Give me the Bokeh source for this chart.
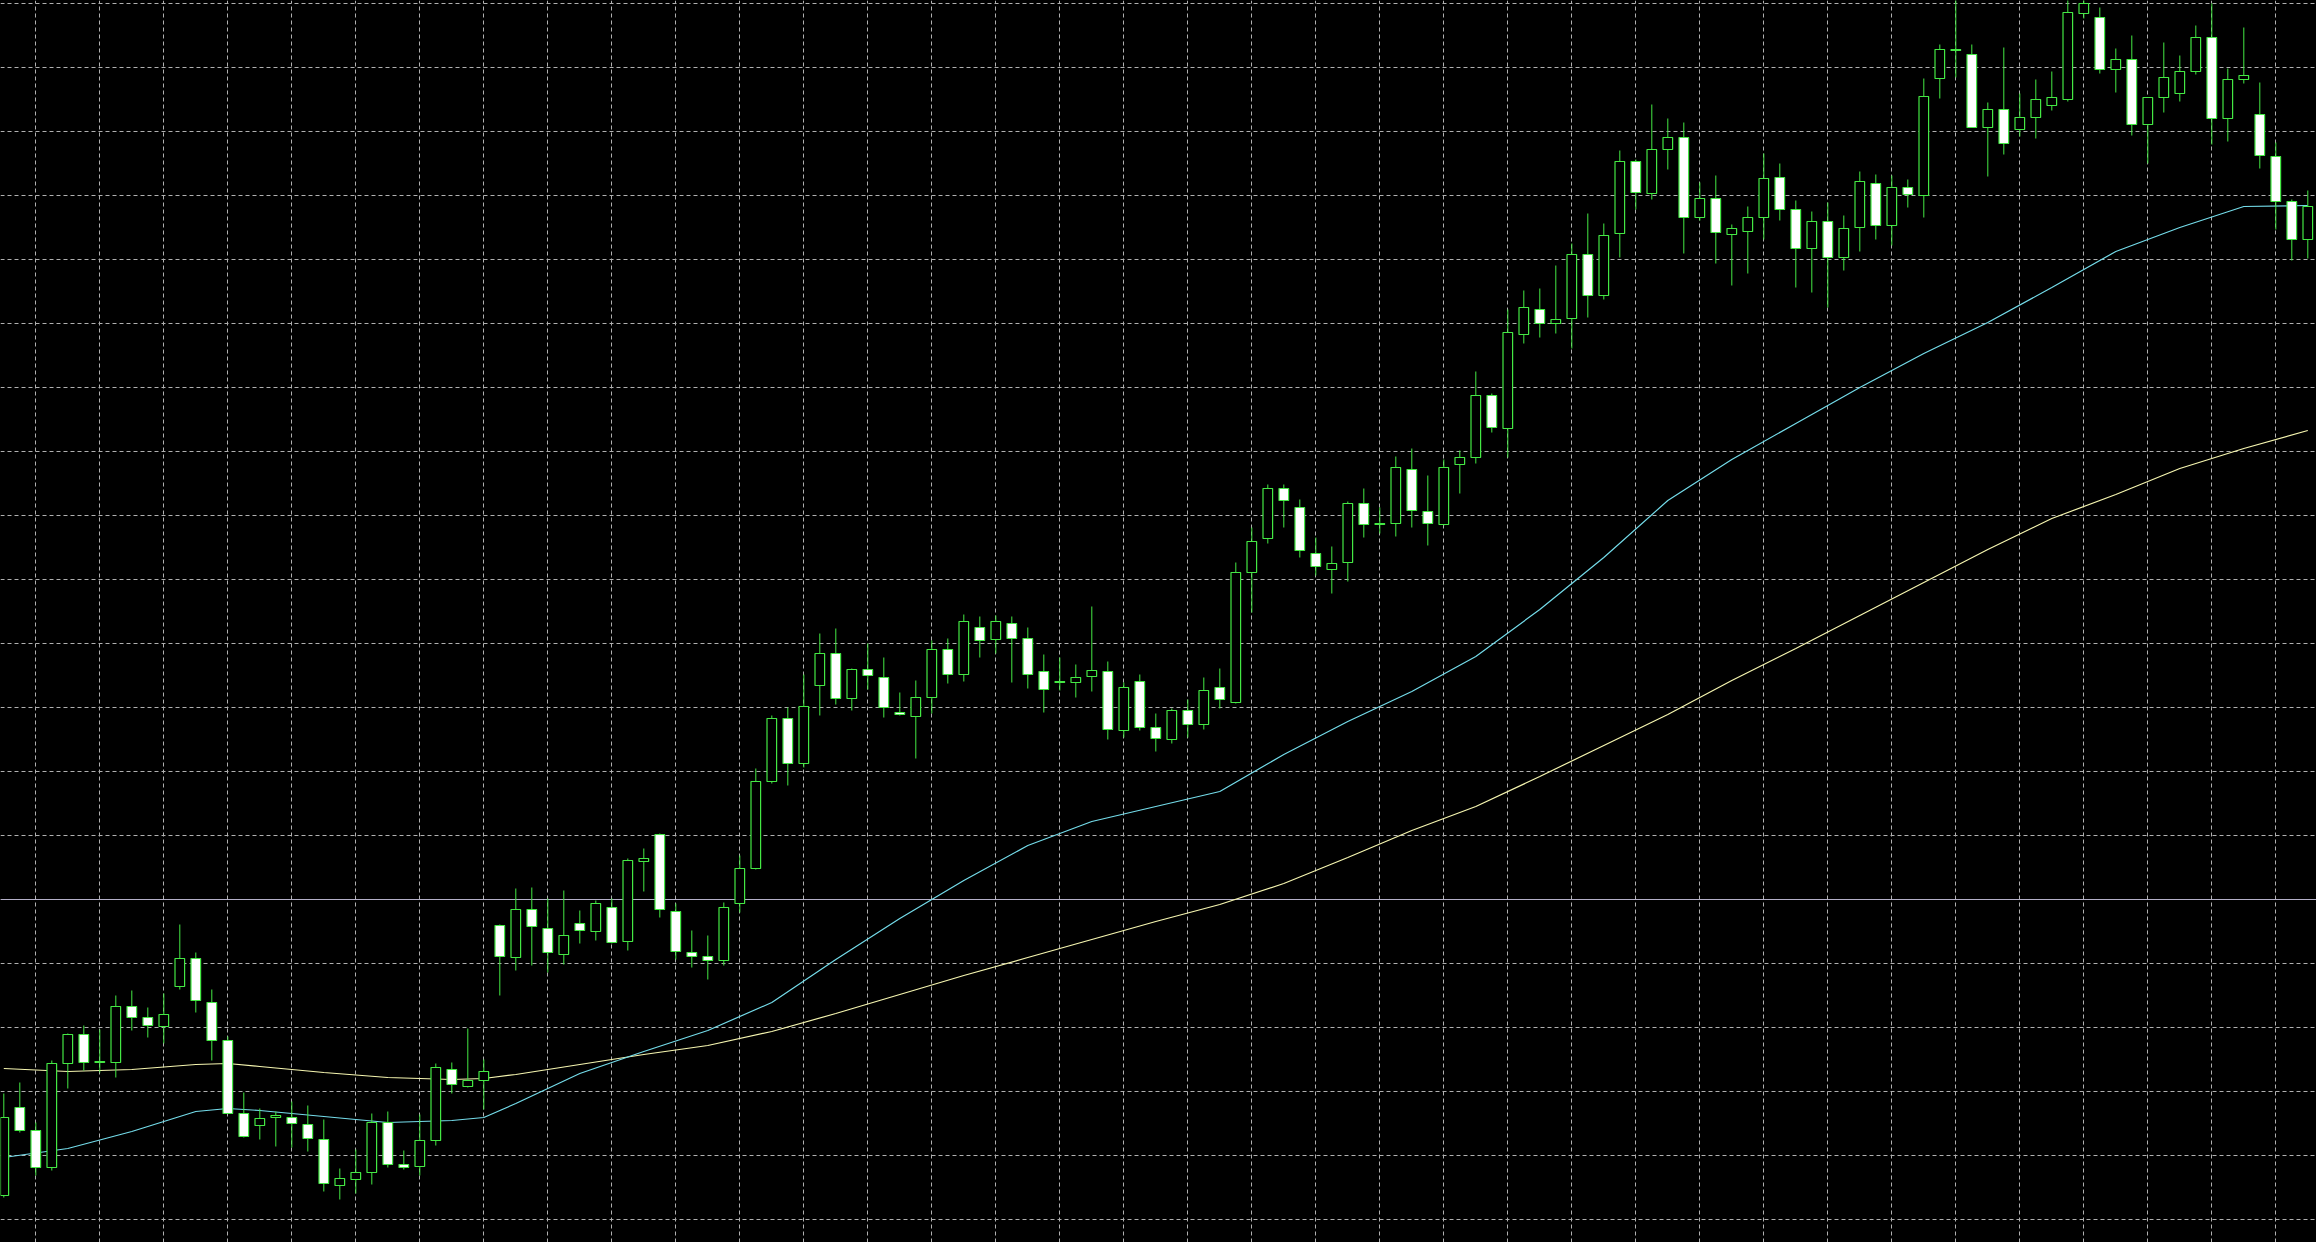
from bokeh.plotting import figure
from bokeh.models import Range1d, Grid, FixedTicker, Span, ColumnDataSource
from bokeh.embed import file_html
from bokeh.resources import INLINE

# ---- data (price in points; chart shows no price scale) ----
open_ = [47, 135, 112, 75, 179, 208, 180, 180, 236, 225,
         216, 256, 284, 240, 202, 129, 117, 125, 125, 118,
         103, 57, 63, 70, 120, 78, 76, 102, 173, 156,
         162, 317, 285, 333, 314, 288, 319, 311, 335, 301,
         381, 408, 331, 290, 286, 282, 339, 374, 461, 524,
         479, 557, 589, 544, 573, 565, 530, 526, 545, 593,
         568, 615, 603, 619, 604, 571, 561, 560, 566, 571,
         512, 561, 515, 503, 532, 518, 555, 540, 670, 704,
         754, 735, 689, 673, 680, 739, 719, 719, 773, 731,
         718, 778, 785, 847, 814, 908, 933, 919, 924, 988,
         947, 1009, 1081, 1049, 1093, 1105, 1025, 1044, 1008, 1011,
         1025, 1065, 1033, 994, 1021, 985, 1015, 1059, 1017, 1055,
         1047, 1164, 1193, 1188, 1115, 1133, 1113, 1125, 1137, 1143,
         1229, 1225, 1173, 1183, 1118, 1145, 1149, 1171, 1205, 1124,
         1163, 1128, 1086, 1041, 1003]
high = [149, 160, 120, 182, 209, 217, 213, 247, 252, 235,
        249, 318, 290, 253, 206, 150, 134, 131, 141, 137,
        123, 74, 93, 129, 131, 92, 128, 179, 180, 214,
        183, 318, 354, 355, 344, 352, 332, 342, 344, 384,
        394, 409, 339, 312, 307, 340, 387, 474, 527, 535,
        568, 609, 614, 574, 599, 585, 550, 562, 602, 604,
        628, 626, 627, 626, 615, 588, 585, 578, 636, 581,
        560, 568, 529, 534, 543, 565, 574, 680, 715, 758,
        758, 743, 705, 696, 741, 754, 735, 786, 794, 767,
        783, 792, 871, 849, 933, 952, 954, 977, 999, 1029,
        1019, 1092, 1083, 1138, 1124, 1120, 1060, 1067, 1018, 1036,
        1089, 1079, 1042, 1031, 1040, 1027, 1071, 1068, 1067, 1063,
        1164, 1198, 1245, 1198, 1140, 1195, 1149, 1163, 1171, 1243,
        1245, 1235, 1194, 1207, 1145, 1200, 1187, 1217, 1239, 1174,
        1215, 1160, 1100, 1043, 1052]
low = [45, 110, 67, 72, 154, 172, 170, 165, 212, 205,
       199, 253, 230, 182, 129, 105, 103, 96, 95, 91,
       51, 43, 49, 58, 75, 73, 67, 97, 149, 155,
       133, 247, 272, 277, 270, 278, 299, 302, 299, 292,
       351, 325, 283, 275, 263, 277, 330, 373, 459, 457,
       475, 527, 538, 532, 553, 525, 527, 484, 529, 559,
       561, 585, 589, 560, 554, 530, 552, 545, 551, 503,
       505, 512, 491, 499, 505, 513, 534, 539, 630, 699,
       715, 685, 667, 649, 661, 705, 709, 706, 715, 697,
       717, 749, 779, 810, 785, 899, 905, 909, 894, 925,
       943, 985, 1033, 1043, 1073, 989, 1022, 979, 957, 969,
       1003, 1022, 955, 950, 935, 972, 991, 1003, 997, 1035,
       1025, 1144, 1165, 1115, 1066, 1088, 1106, 1104, 1132, 1141,
       1224, 1169, 1150, 1107, 1079, 1130, 1141, 1168, 1098, 1101,
       1159, 1074, 1013, 982, 984]
close = [125, 112, 75, 179, 208, 180, 181, 236, 225, 217,
         228, 284, 242, 202, 129, 106, 124, 127, 119, 104,
         59, 64, 70, 120, 78, 75, 102, 175, 158, 162,
         171, 286, 333, 316, 290, 307, 312, 339, 300, 382,
         384, 333, 291, 286, 282, 335, 374, 461, 524, 479,
         536, 589, 544, 573, 567, 535, 528, 545, 593, 568,
         621, 602, 621, 604, 568, 553, 560, 565, 572, 513,
         555, 515, 504, 532, 518, 552, 543, 670, 701, 754,
         742, 692, 676, 679, 739, 718, 718, 775, 732, 719,
         775, 785, 847, 815, 910, 935, 919, 923, 988, 947,
         1007, 1081, 1050, 1093, 1105, 1025, 1044, 1010, 1014, 1025,
         1064, 1033, 994, 1021, 985, 1014, 1061, 1017, 1055, 1048,
         1146, 1193, 1192, 1115, 1133, 1099, 1125, 1143, 1145, 1230,
         1239, 1173, 1183, 1118, 1145, 1165, 1171, 1205, 1124, 1163,
         1167, 1087, 1041, 1003, 1036]

# moving averages, read at these bar positions
ma_bar = [0, 4, 8, 12, 14, 16, 20, 24, 28, 30, 32,
          36, 40, 44, 48, 52, 56, 60, 64, 68, 72, 76, 80, 84, 88, 92,
          96, 100, 104, 108, 112, 116, 120, 124, 128, 132, 136, 140, 144]
ma_fast = [85, 94, 111, 131, 134, 132, 126, 120, 122, 125, 139,
           169, 191, 212, 240, 283, 324, 362, 397, 421, 436, 451, 488, 521, 551, 586,
           633, 685, 742, 783, 819, 855, 889, 920, 955, 991, 1015, 1036, 1037]
ma_slow = [174, 171, 173, 178, 179, 176, 170, 165, 163, 164, 168,
           178, 188, 197, 211, 229, 248, 267, 285, 303, 321, 338, 359, 385, 412, 436,
           466, 497, 528, 562, 594, 627, 660, 693, 724, 748, 774, 794, 812]

bid_level = 343
price_grid = [23 + 64 * j for j in range(20)]
bar_grid = [2 + 4 * j for j in range(36)]

# ---- figure ----
W, H = 2316, 1242
p = figure(width=W, height=H, output_backend="svg", toolbar_location=None,
           x_axis_type=None, y_axis_type=None,
           x_range=Range1d(-3.3 / 16, (W - 3.3) / 16), y_range=Range1d(0, H),
           min_border=0, min_border_left=0, min_border_right=0,
           min_border_top=0, min_border_bottom=0)
p.background_fill_color = "#000000"
p.border_fill_color = "#000000"
p.outline_line_color = None

grid_kw = dict(grid_line_color="#b0b0b0", grid_line_dash="4 3", grid_line_width=1)
p.add_layout(Grid(dimension=0, ticker=FixedTicker(ticks=bar_grid), **grid_kw))
p.add_layout(Grid(dimension=1, ticker=FixedTicker(ticks=price_grid), **grid_kw))

p.add_layout(Span(location=bid_level, dimension="width", line_color="#b4b0c8",
                  line_width=1, level="underlay"))

# moving averages
p.line(ma_bar, ma_slow, line_color="#f6f6b0", line_width=1.2)
p.line(ma_bar, ma_fast, line_color="#74dcea", line_width=1.2)

n = len(open_)
idx = list(range(n))
top = [max(o, c) for o, c in zip(open_, close)]
bot = [min(o, c) for o, c in zip(open_, close)]
fill = ["#000000" if c > o else "#ffffff" for o, c in zip(open_, close)]
src = ColumnDataSource(dict(x=idx, high=high, low=low, top=top, bot=bot, fill=fill))

GREEN = "#44e844"
p.segment(x0="x", y0="low", x1="x", y1="high", source=src, line_color=GREEN, line_width=1)
p.vbar(x="x", width=0.6, top="top", bottom="bot", source=src,
       fill_color="fill", line_color=GREEN, line_width=1.2)

TEMPLATE = """{% block postamble %}<style>html, body {margin:0 !important; padding:0 !important; background:#000000; overflow:hidden;}</style>{% endblock %}"""

open("out.html", "w").write(file_html(p, INLINE, title="chart", template=TEMPLATE))
